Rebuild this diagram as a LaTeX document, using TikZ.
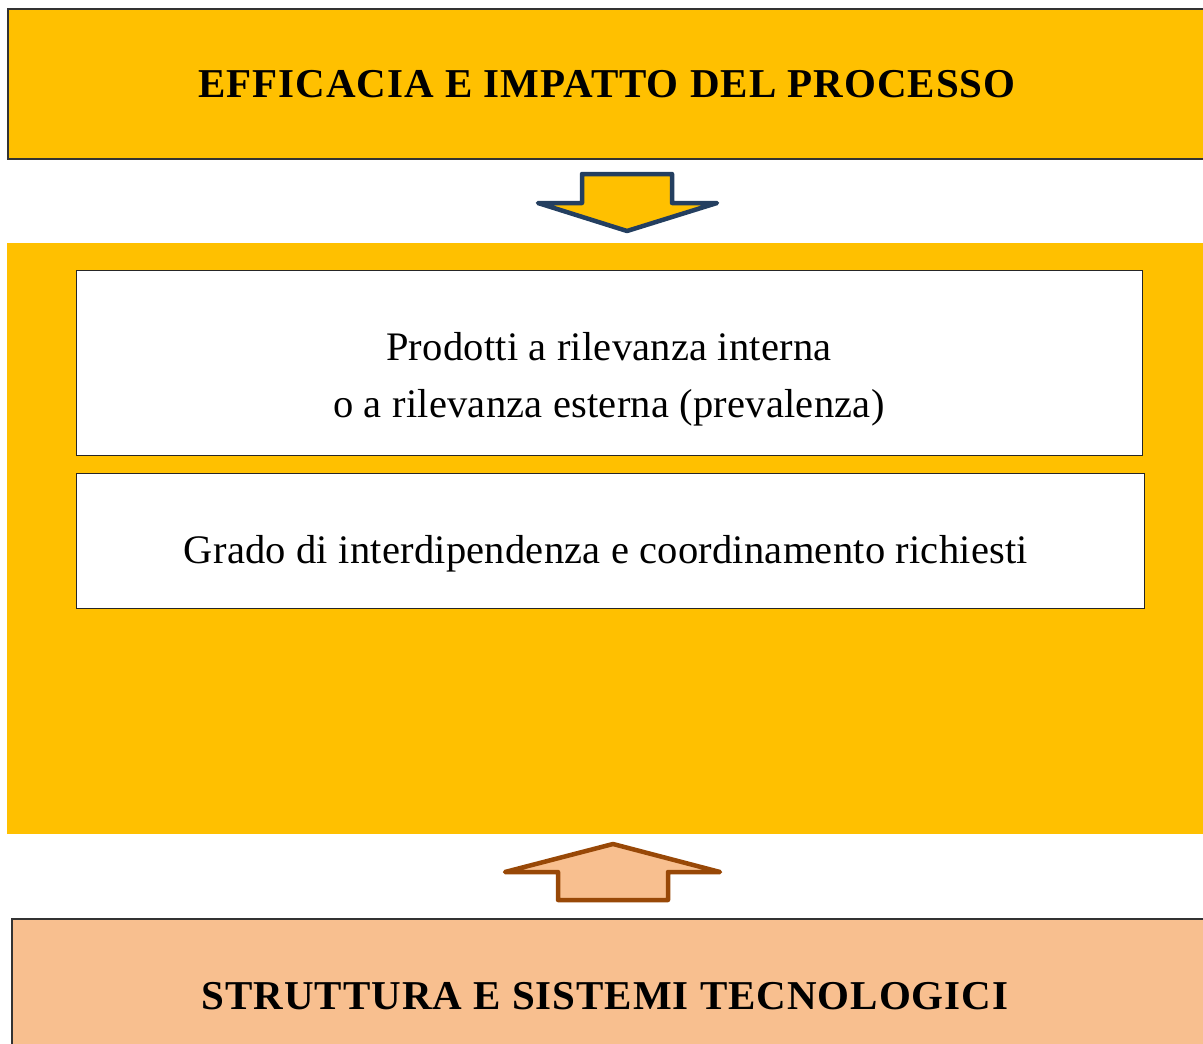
\documentclass[tikz,border=0pt]{standalone}
\usepackage{fontspec}
\setmainfont{Liberation Serif}
\definecolor{gold}{HTML}{FFC000}
\definecolor{peach}{HTML}{F8BF8F}
\definecolor{navy}{HTML}{243F60}
\definecolor{rust}{HTML}{984807}
\begin{document}
\begin{tikzpicture}[x=1pt,y=-1pt,
  band/.style={draw=black!80,line width=1.3pt},
  whitebox/.style={draw=black!85,fill=white,line width=1.2pt},
  bigtitle/.style={font=\bfseries\fontsize{41}{46}\selectfont\addfontfeatures{LetterSpace=2.4},inner sep=0pt},
  bodytext/.style={font=\fontsize{40.5}{57}\selectfont\addfontfeatures{LetterSpace=0.6},inner sep=0pt,align=center},
  blockarrow/.style={line width=4.5pt,line join=round,line cap=round}]
\useasboundingbox (0,0) rectangle (1203,1044);
% top band
\path[band,fill=gold] (8,9) rectangle (1215,159);
\node[bigtitle] (top) at (607,84) {EFFICACIA E IMPATTO DEL PROCESSO};
% down arrow
\path[blockarrow,draw=navy,fill=gold] (582,174) -- (672,174) -- (672,203) -- (717,203) -- (627,231) -- (538,203) -- (582,203) -- cycle;
% middle panel
\fill[gold] (7,243) rectangle (1215,834);
\node[whitebox,minimum width=1066,minimum height=185,anchor=north west] (b1) at (76,270) {};
\node[bodytext] (t1) at (609,379) {Prodotti a rilevanza interna\\o a rilevanza esterna (prevalenza)};
\node[whitebox,minimum width=1068,minimum height=135,anchor=north west] (b2) at (76,473) {};
\node[bodytext] (t2) at (606,554) {Grado di interdipendenza e coordinamento richiesti};
% up arrow
\path[blockarrow,draw=rust,fill=peach] (613,844) -- (720,872) -- (668,872) -- (668,900) -- (558,900) -- (558,872) -- (505,872) -- cycle;
% bottom band
\path[band,fill=peach] (12,919) rectangle (1215,1060);
\node[bigtitle] (bot) at (605,996) {STRUTTURA E SISTEMI TECNOLOGICI};
\end{tikzpicture}
\end{document}
